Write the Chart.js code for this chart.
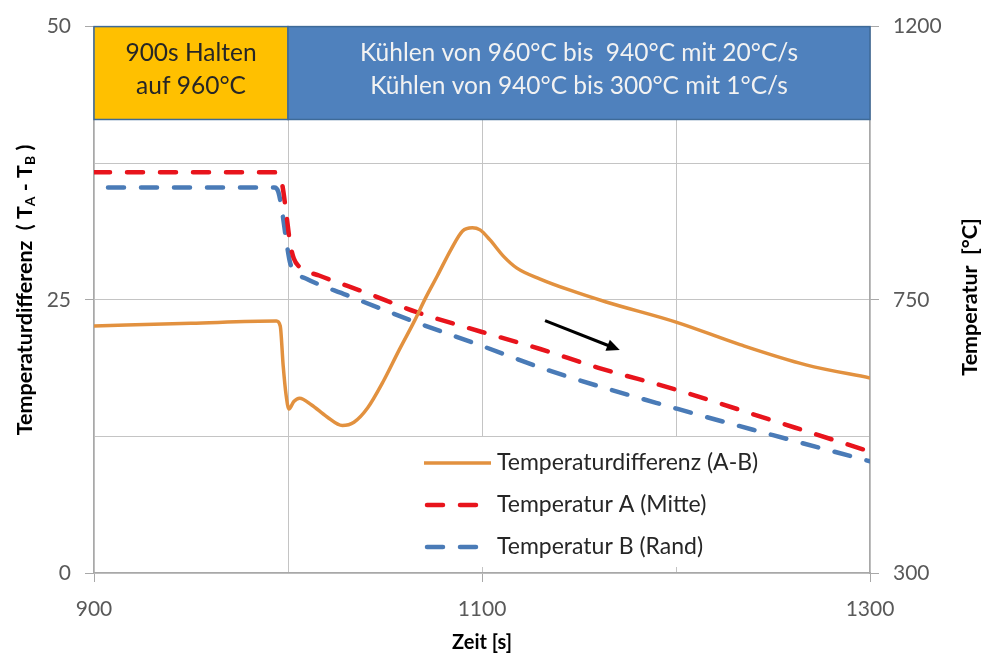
<!DOCTYPE html>
<html>
<head>
<meta charset="utf-8">
<script src="https://cdn.jsdelivr.net/npm/chart.js@4.4.1/dist/chart.umd.min.js"></script>
<style>
  html, body { margin: 0; padding: 0; background: #ffffff; }
  #wrap { width: 984px; height: 660px; }
</style>
</head>
<body>
<div id="wrap"><canvas id="c" width="984" height="660"></canvas></div>
<script>
// Temperaturdifferenz (A-B), left axis
const timeDiff = [900, 950, 994, 996, 997.5, 999, 1000.5, 1003, 1006, 1012, 1020, 1028, 1034, 1041, 1049, 1057, 1065, 1071, 1077, 1084, 1090, 1095, 1099, 1104, 1111, 1118, 1130, 1145, 1164, 1200, 1233, 1267, 1300];
const diffValues = [22.6, 22.85, 23.05, 22.6, 19.0, 16.3, 15.0, 15.7, 16.0, 15.4, 14.3, 13.5, 13.8, 15.1, 17.5, 20.3, 23.0, 25.2, 27.2, 29.6, 31.3, 31.6, 31.4, 30.5, 29.0, 27.9, 26.9, 25.9, 24.8, 22.96, 20.9, 19.05, 17.85];

// Temperatur A (Mitte), right axis
const timeA = [900, 993, 995, 997, 999, 1001, 1003, 1006, 1016, 1040, 1066, 1100, 1130, 1160, 1200, 1250, 1300];
const tempA = [960, 960, 957, 940, 895, 845, 818, 804, 790, 762, 730, 697, 669, 638, 602, 551, 500];

// Temperatur B (Rand), right axis
const timeB = [900, 993, 995, 997, 999, 1001, 1003, 1010, 1030, 1066, 1100, 1136, 1200, 1250, 1300];
const tempB = [935, 935, 928, 895, 850, 812, 798, 784, 758, 713, 674, 632, 571, 527, 484];

// Axis ticks
const xTickLabels = [900, 1100, 1300];
const leftTickLabels = [0, 25, 50];
const rightTickLabels = [300, 750, 1200];

// Process phases shown in the banner above the curves
const phaseStart = [900, 1000];
const phaseEnd = [1000, 1300];
const phaseText = [
  ['900s Halten', 'auf 960°C'],
  ['Kühlen von 960°C bis  940°C mit 20°C/s', 'Kühlen von 940°C bis 300°C mit 1°C/s']
];
const bannerFloor = 41.5;

// Trend arrow (time, Temperaturdifferenz)
const arrowTime = [1132.5, 1171];
const arrowValue = [23.1, 20.4];

const seriesNames = ['Temperaturdifferenz (A-B)', 'Temperatur A (Mitte)', 'Temperatur B (Rand)'];

const FONT = 'Lato, "Open Sans", "Liberation Sans", sans-serif';
const GRID = '#c4c4c4';
const AXIS = '#a8a8a8';
const TICKTXT = '#595959';
const ORANGE = '#E2913F';
const RED = '#E8141C';
const BLUE = '#4A7BB7';

const pts = (xs, ys) => xs.map((x, i) => ({ x: x, y: ys[i] }));

const bannerPlugin = {
  id: 'banner',
  afterDraw(chart) {
    const ctx = chart.ctx;
    const xs = chart.scales.x, ys = chart.scales.y;
    const fills = ['#FFC000', '#4F81BD'];
    const inks = ['#262626', '#F2F2F2'];
    const top = ys.getPixelForValue(ys.max);
    const bottom = ys.getPixelForValue(bannerFloor);
    ctx.save();
    phaseStart.forEach((s, i) => {
      const l = xs.getPixelForValue(s), r = xs.getPixelForValue(phaseEnd[i]);
      ctx.fillStyle = fills[i];
      ctx.fillRect(l, top, r - l, bottom - top);
      ctx.strokeStyle = '#3E6A98';
      ctx.lineWidth = 1.5;
      ctx.strokeRect(l, top, r - l, bottom - top);
      ctx.fillStyle = inks[i];
      ctx.font = '24.5px ' + FONT;
      ctx.textAlign = 'center';
      ctx.textBaseline = 'middle';
      const cx = (l + r) / 2, cy = (top + bottom) / 2 - 3;
      phaseText[i].forEach((t, k) => {
        ctx.fillText(t, cx, cy + (k - 0.5) * 33);
      });
    });
    ctx.restore();
  }
};

const overlayPlugin = {
  id: 'overlay',
  afterDatasetsDraw(chart) {
    const ctx = chart.ctx;
    const xs = chart.scales.x, ys = chart.scales.y;
    const area = chart.chartArea;
    ctx.save();

    // trend arrow
    const x1 = xs.getPixelForValue(arrowTime[0]), y1 = ys.getPixelForValue(arrowValue[0]);
    const x2 = xs.getPixelForValue(arrowTime[1]), y2 = ys.getPixelForValue(arrowValue[1]);
    const ang = Math.atan2(y2 - y1, x2 - x1);
    ctx.strokeStyle = '#000';
    ctx.fillStyle = '#000';
    ctx.lineWidth = 3;
    ctx.beginPath();
    ctx.moveTo(x1, y1);
    ctx.lineTo(x2 - 9 * Math.cos(ang), y2 - 9 * Math.sin(ang));
    ctx.stroke();
    ctx.beginPath();
    ctx.moveTo(x2, y2);
    ctx.lineTo(x2 - 13 * Math.cos(ang) + 6 * Math.sin(ang), y2 - 13 * Math.sin(ang) - 6 * Math.cos(ang));
    ctx.lineTo(x2 - 13 * Math.cos(ang) - 6 * Math.sin(ang), y2 - 13 * Math.sin(ang) + 6 * Math.cos(ang));
    ctx.closePath();
    ctx.fill();

    // legend inside the plot
    const lx = area.left + 330, ly = area.bottom - 134;
    ctx.fillStyle = '#ffffff';
    ctx.fillRect(lx - 10, ly - 2, 340, 130);
    chart.data.datasets.forEach((ds, i) => {
      const y = ly + 24 + i * 42;
      ctx.strokeStyle = ds.borderColor;
      ctx.lineWidth = ds.borderWidth;
      ctx.lineCap = ds.borderCapStyle || 'butt';
      ctx.setLineDash(ds.borderDash || []);
      ctx.beginPath();
      if (ds.borderDash) {
        ctx.moveTo(lx + 3, y);
        ctx.lineTo(lx + 54, y);
      } else {
        ctx.lineCap = 'butt';
        ctx.moveTo(lx, y);
        ctx.lineTo(lx + 67, y);
      }
      ctx.stroke();
      ctx.setLineDash([]);
      ctx.fillStyle = '#262626';
      ctx.font = '23px ' + FONT;
      ctx.textAlign = 'left';
      ctx.textBaseline = 'middle';
      ctx.fillText(ds.label, lx + 73, y);
    });

    ctx.restore();
  },
  afterDraw(chart) {
    const ctx = chart.ctx;
    const area = chart.chartArea;
    ctx.save();
    ctx.fillStyle = '#000';
    ctx.textBaseline = 'middle';

    // x title
    ctx.font = 'bold 20px ' + FONT;
    ctx.textAlign = 'center';
    ctx.fillText('Zeit [s]', (area.left + area.right) / 2, 643);

    // left title with subscripts
    const big = 'bold 21.5px ' + FONT, small = 'bold 14px ' + FONT;
    const parts = [['Temperaturdifferenz  ( T', big, 0], ['A', small, 5], [' - T', big, 0], ['B', small, 5], [' )', big, 0]];
    ctx.translate(25, 290);
    ctx.rotate(-Math.PI / 2);
    let total = 0;
    parts.forEach(p => { ctx.font = p[1]; total += ctx.measureText(p[0]).width; });
    let px = -total / 2;
    ctx.textAlign = 'left';
    parts.forEach(p => {
      ctx.font = p[1];
      ctx.fillText(p[0], px, p[2]);
      px += ctx.measureText(p[0]).width;
    });
    ctx.setTransform(1, 0, 0, 1, 0, 0);

    // right title
    ctx.translate(970, 297);
    ctx.rotate(-Math.PI / 2);
    ctx.font = 'bold 21.5px ' + FONT;
    ctx.textAlign = 'center';
    ctx.fillText('Temperatur  [°C]', 0, 0);
    ctx.restore();
  }
};

const labelTick = (list) => (ctx) => list.includes(ctx.tick.value) ? AXIS : 'rgba(0,0,0,0)';

new Chart(document.getElementById('c'), {
  type: 'line',
  data: {
    datasets: [
      {
        label: seriesNames[0],
        data: pts(timeDiff, diffValues),
        yAxisID: 'y',
        borderColor: ORANGE,
        borderWidth: 3.5,
        cubicInterpolationMode: 'monotone',
        pointRadius: 0,
        fill: false
      },
      {
        label: seriesNames[1],
        data: pts(timeA, tempA),
        yAxisID: 'y1',
        borderColor: RED,
        borderWidth: 4.5,
        borderDash: [16, 17],
        borderCapStyle: 'round',
        cubicInterpolationMode: 'monotone',
        pointRadius: 0,
        fill: false
      },
      {
        label: seriesNames[2],
        data: pts(timeB, tempB),
        yAxisID: 'y1',
        borderColor: BLUE,
        borderWidth: 4.5,
        borderDash: [16, 17],
        borderDashOffset: -14,
        borderCapStyle: 'round',
        cubicInterpolationMode: 'monotone',
        pointRadius: 0,
        fill: false
      }
    ]
  },
  options: {
    responsive: false,
    animation: false,
    devicePixelRatio: 1,
    layout: { padding: { top: 22, left: 0, right: 0, bottom: 0 } },
    plugins: { legend: { display: false }, tooltip: { enabled: false } },
    scales: {
      x: {
        type: 'linear',
        min: 900, max: 1300,
        afterFit: s => { s.height = 87; },
        afterBuildTicks: s => { s.ticks = [900, 1000, 1100, 1200, 1300].map(v => ({ value: v })); },
        ticks: {
          autoSkip: false, maxRotation: 0,
          padding: 15,
          color: TICKTXT,
          font: { family: FONT, size: 21 },
          callback: v => xTickLabels.includes(v) ? String(v) : ''
        },
        grid: { color: GRID, lineWidth: 1, tickLength: 9, tickColor: labelTick(xTickLabels) },
        border: { color: AXIS, width: 1.2 }
      },
      y: {
        position: 'left',
        min: 0, max: 50,
        afterFit: s => { s.width = 94; },
        afterBuildTicks: s => { s.ticks = [0, 12.5, 25, 37.5, 50].map(v => ({ value: v })); },
        ticks: {
          autoSkip: false,
          padding: 14,
          color: TICKTXT,
          font: { family: FONT, size: 21 },
          callback: v => leftTickLabels.includes(v) ? String(v) : ''
        },
        grid: { color: GRID, lineWidth: 1, tickLength: 9, tickColor: labelTick(leftTickLabels) },
        border: { color: AXIS, width: 1.2 }
      },
      y1: {
        position: 'right',
        min: 300, max: 1200,
        afterFit: s => { s.width = 114; },
        afterBuildTicks: s => { s.ticks = rightTickLabels.map(v => ({ value: v })); },
        ticks: {
          autoSkip: false,
          padding: 14,
          color: TICKTXT,
          font: { family: FONT, size: 21 },
          callback: v => String(v)
        },
        grid: { drawOnChartArea: false, tickLength: 9, tickColor: AXIS },
        border: { color: AXIS, width: 1.2 }
      }
    }
  },
  plugins: [bannerPlugin, overlayPlugin]
});
</script>
</body>
</html>
